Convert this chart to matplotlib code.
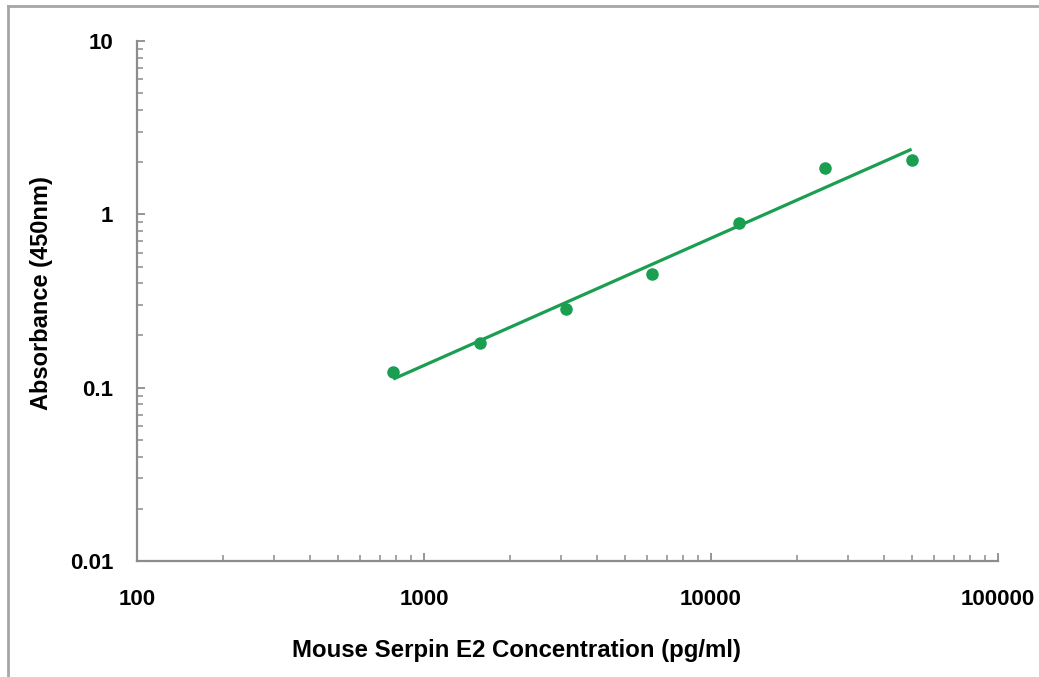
import numpy as np
import matplotlib
matplotlib.use("Agg")
import matplotlib.pyplot as plt
from matplotlib.ticker import LogLocator, FixedLocator, FixedFormatter, NullFormatter
from matplotlib.lines import Line2D

plt.rcParams['font.family'] = ['Liberation Sans', 'DejaVu Sans']

# Data
concentration = [781.25, 1562.5, 3125, 6250, 12500, 25000, 50000]
absorbance = [0.123, 0.181, 0.284, 0.453, 0.891, 1.85, 2.06]
x_tick_values = [100, 1000, 10000, 100000]
x_tick_labels = ["100", "1000", "10000", "100000"]
y_tick_values = [0.01, 0.1, 1, 10]
y_tick_labels = ["0.01", "0.1", "1", "10"]

green = "#1a9e50"
spine_gray = "#8c8c8c"

fig = plt.figure(figsize=(10.39, 6.77), dpi=100)
ax = fig.add_axes([137/1039, 1-561/677, (998-137)/1039, (561-41)/677])

ax.set_xscale('log')
ax.set_yscale('log')
ax.set_xlim(100, 100000)
ax.set_ylim(0.01, 10)

# power trendline fitted in log-log space
lx = np.log10(concentration)
ly = np.log10(absorbance)
slope, intercept = np.polyfit(lx, ly, 1)
xf = np.array([concentration[0], concentration[-1]])
yf = 10 ** (intercept + slope * np.log10(xf))
ax.plot(xf, yf, color=green, lw=2.3, solid_capstyle='butt', zorder=2)
ax.plot(concentration, absorbance, 'o', color=green, ms=8, mec=green, zorder=3)

for s in ['top', 'right']:
    ax.spines[s].set_visible(False)
for s in ['left', 'bottom']:
    ax.spines[s].set_color(spine_gray)
    ax.spines[s].set_linewidth(1.6)

ax.xaxis.set_major_locator(FixedLocator(x_tick_values))
ax.xaxis.set_major_formatter(FixedFormatter(x_tick_labels))
ax.yaxis.set_major_locator(FixedLocator(y_tick_values))
ax.yaxis.set_major_formatter(FixedFormatter(y_tick_labels))
ax.xaxis.set_minor_locator(LogLocator(base=10, subs=np.arange(2, 10), numticks=20))
ax.yaxis.set_minor_locator(LogLocator(base=10, subs=np.arange(2, 10), numticks=20))
ax.xaxis.set_minor_formatter(NullFormatter())
ax.yaxis.set_minor_formatter(NullFormatter())

ax.tick_params(axis='both', which='major', direction='in', length=6, width=1.3,
               color=spine_gray, labelsize=16, labelcolor='black')
ax.tick_params(axis='both', which='minor', direction='in', length=4.5, width=1.1,
               color=spine_gray)
ax.tick_params(axis='x', which='major', pad=20)
ax.tick_params(axis='y', which='major', pad=17)
for lab in ax.get_xticklabels() + ax.get_yticklabels():
    lab.set_fontweight('bold')

fig.text(517/1039, 1-650/677, "Mouse Serpin E2 Concentration (pg/ml)",
         ha='center', va='center', fontsize=17.3, fontweight='bold')
fig.text(42/1039, 1-293/677, "Absorbance (450nm)", rotation=90,
         ha='center', va='center', fontsize=17, fontweight='bold')

# figure frame (left and top edges)
fig.add_artist(Line2D([8/1039, 8/1039], [0, 1-6/677], transform=fig.transFigure,
                      color='#a6a6a6', lw=2))
fig.add_artist(Line2D([8/1039, 1], [1-6/677, 1-6/677], transform=fig.transFigure,
                      color='#a6a6a6', lw=2))

fig.savefig("out.png", dpi=100)
